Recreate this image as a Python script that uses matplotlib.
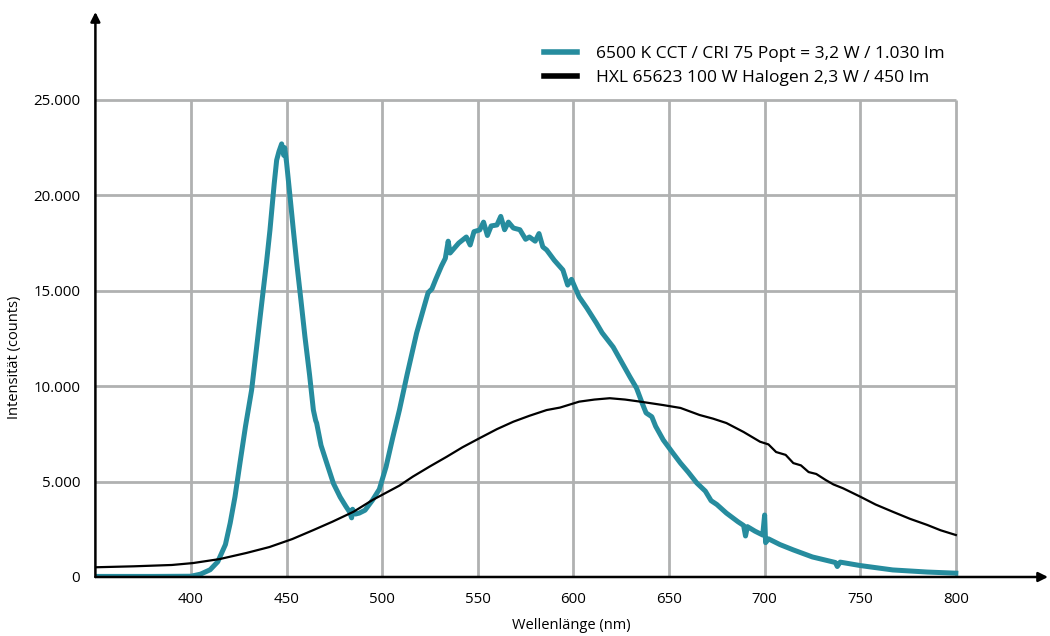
import matplotlib.pyplot as plt
import numpy as np

plt.rcParams['font.family'] = ['Open Sans', 'DejaVu Sans']

# LED 6500 K spectrum
led_nm = [350, 380, 400, 405, 410, 414, 418, 420.5, 423, 425.6, 428.5, 431.7, 434.5, 437,
          439.5, 441.3, 443.5, 444.8, 446, 447.4, 448.5, 449, 450, 451.8, 453.5, 455.3, 457.5,
          459.6, 462, 464, 465.2, 465.7, 468, 471, 474.5, 478, 481, 483, 484, 484.5, 486, 488,
          491, 495, 498.5, 502, 505.5, 509, 513, 518, 522, 524, 526, 528, 531, 533, 534.5,
          535.5, 540, 544, 546, 548, 551, 553, 555, 557, 560, 562, 564, 566, 568.6, 572, 575,
          577, 580, 582, 584, 586, 590, 594.5, 597, 599, 603, 607, 612, 615, 620.8, 625,
          629.6, 633, 636, 638, 641, 643, 647, 652, 656, 660, 664.5, 669, 672, 675, 680, 686,
          689, 690, 691, 695, 699, 700, 700.5, 702, 708, 715, 725, 737, 738, 739.5, 750, 767,
          785, 800]
led_val = [30, 30, 40, 150, 380, 800, 1700, 2830, 4200, 5970, 7900, 9800, 12200, 14360,
           16500, 18190, 20600, 21850, 22300, 22700, 22100, 22500, 21700, 19920, 18200, 16460,
           14500, 12580, 10600, 8750, 8200, 8070, 6900, 5970, 4900, 4190, 3700, 3400, 3100,
           3550, 3300, 3350, 3500, 4040, 4600, 5770, 7300, 8750, 10600, 12790, 14200, 14900,
           15100, 15600, 16300, 16700, 17600, 16980, 17500, 17820, 17400, 18100, 18190, 18600,
           17900, 18400, 18450, 18900, 18200, 18600, 18290, 18200, 17700, 17820, 17600, 18000,
           17300, 17140, 16600, 16090, 15300, 15600, 14680, 14100, 13310, 12800, 12050, 11300,
           10480, 9900, 9100, 8600, 8400, 7900, 7180, 6500, 5970, 5500, 4930, 4500, 4000, 3800,
           3350, 2900, 2700, 2150, 2640, 2400, 2200, 3250, 1800, 2000, 1700, 1420, 1050, 760,
           550, 780, 600, 370, 260, 200]

# Halogen spectrum
hal_nm = [350, 370, 390, 401, 415, 429, 441, 453, 464, 474, 485, 495, 509, 516, 525, 533.7,
          542, 551, 560, 568.6, 577, 586, 593, 603, 611, 619, 627, 635, 641, 647, 656, 666,
          673, 680, 689, 697.6, 702, 706, 711, 715, 719, 723, 727, 732, 736, 741, 750, 758,
          767, 776, 785, 792, 800]
hal_val = [510, 560, 630, 730, 940, 1260, 1570, 1990, 2460, 2900, 3420, 4040, 4790, 5260,
           5800, 6300, 6800, 7280, 7750, 8140, 8450, 8750, 8880, 9190, 9300, 9370, 9300, 9190,
           9100, 9010, 8860, 8490, 8300, 8070, 7600, 7090, 6950, 6550, 6400, 5970, 5850, 5500,
           5400, 5080, 4850, 4650, 4210, 3800, 3420, 3050, 2730, 2450, 2200]

led_label = "6500 K CCT / CRI 75 Popt = 3,2 W / 1.030 lm"
hal_label = "HXL 65623 100 W Halogen 2,3 W / 450 lm"

x_ticks = [400, 450, 500, 550, 600, 650, 700, 750, 800]
y_ticks = [0, 5000, 10000, 15000, 20000, 25000]
y_ticklabels = ["0", "5.000", "10.000", "15.000", "20.000", "25.000"]

teal = "#268c9e"
grid_c = "#b0b1b1"

fig = plt.figure(figsize=(10.5, 6.36), dpi=100)
ax = fig.add_axes([95.4 / 1050, 59 / 636, (1048 - 95.4) / 1050, (624 - 59) / 636])
ax.set_xlim(350, 848.2)
ax.set_ylim(0, 29612)

# grid box only up to 800 nm / 25.000
ax.hlines(y_ticks[1:], 350, 800, color=grid_c, lw=2, zorder=1)
ax.vlines(x_ticks, 0, 25000, color=grid_c, lw=2, zorder=1)

ax.plot(hal_nm, hal_val, color="black", lw=1.6, zorder=3, label=hal_label)
ax.plot(led_nm, led_val, color=teal, lw=3.6, zorder=2, label=led_label)

for s in ax.spines.values():
    s.set_visible(False)

# axes with arrows
ax.annotate("", xy=(1.0, 0), xycoords="axes fraction", xytext=(0, 0),
            arrowprops=dict(arrowstyle="-|>", lw=1.8, color="black",
                            mutation_scale=14, shrinkA=0, shrinkB=0), zorder=5)
ax.annotate("", xy=(0, 1.0), xycoords="axes fraction", xytext=(0, 0),
            arrowprops=dict(arrowstyle="-|>", lw=1.8, color="black",
                            mutation_scale=14, shrinkA=0, shrinkB=0), zorder=5)

ax.set_xticks(x_ticks)
ax.set_yticks(y_ticks)
ax.set_yticklabels(y_ticklabels)
ax.tick_params(axis="both", length=0, labelsize=10.8, colors="black")
ax.tick_params(axis="x", pad=11)
ax.tick_params(axis="y", pad=11)

ax.set_xlabel("Wellenlänge (nm)", fontsize=10.5)
ax.set_ylabel("Intensität (counts)", fontsize=10.5)
ax.xaxis.set_label_coords(0.5, -0.072)
ax.yaxis.set_label_coords(-0.077, 0.389)

handles, labels = ax.get_legend_handles_labels()
leg = fig.legend(handles[::-1], labels[::-1], loc="upper left",
                 bbox_to_anchor=(528 / 1050, 1 - 30 / 636), frameon=False,
                 fontsize=12.5, handlelength=1.9, handletextpad=1.1, labelspacing=0.45)
for line in leg.get_lines():
    line.set_linewidth(4)

fig.savefig("out.png", dpi=100)
